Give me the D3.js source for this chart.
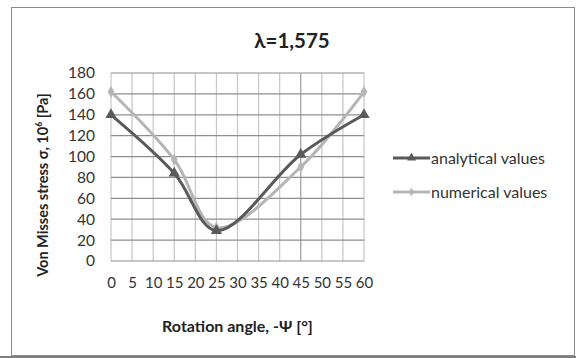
<!DOCTYPE html>
<html>
<head>
<meta charset="utf-8">
<script src="https://cdn.jsdelivr.net/npm/d3@7"></script>
<style>
  html, body { margin: 0; padding: 0; background: #fff; }
  svg { display: block; font-family: Lato, "Open Sans", sans-serif; }
</style>
</head>
<body>
<div id="chart"></div>
<script>
// data
const angles = [0, 15, 25, 45, 60]
const analytical = [140, 84, 29, 102, 140]
const numerical = [162, 97, 32, 90, 162]
const xTicks = [0, 5, 10, 15, 20, 25, 30, 35, 40, 45, 50, 55, 60]
const yTicks = [0, 20, 40, 60, 80, 100, 120, 140, 160, 180]
const seriesNames = ["analytical values", "numerical values"]

const width = 576, height = 358
const svg = d3.select("#chart").append("svg")
    .attr("width", width)
    .attr("height", height)

// outer frame
svg.append("rect")
    .attr("x", 11.5).attr("y", 7.5)
    .attr("width", 563).attr("height", 348)
    .attr("fill", "#fff")
    .attr("stroke", "#8c8c8c")
    .attr("stroke-width", 1)
svg.append("rect")
    .attr("x", 0).attr("y", 356)
    .attr("width", width).attr("height", 2)
    .attr("fill", "#7f7f7f")

const x = d3.scaleLinear().domain([0, 60]).range([111, 364])
const y = d3.scaleLinear().domain([0, 180]).range([261, 73])

// vertical grid
svg.append("g")
    .selectAll("line")
    .data(xTicks)
    .join("line")
    .attr("x1", d => x(d)).attr("x2", d => x(d))
    .attr("y1", y(0)).attr("y2", y(180))
    .attr("stroke", d => d == 45 ? "#9a9a9a" : "#c6c6c6")
    .attr("stroke-width", 1.2)

// horizontal grid
svg.append("g")
    .selectAll("line")
    .data(yTicks)
    .join("line")
    .attr("x1", x(0)).attr("x2", x(60))
    .attr("y1", d => y(d)).attr("y2", d => y(d))
    .attr("stroke", "#8e8e8e")
    .attr("stroke-width", 1.2)

// y axis labels
const yAxis = svg.append("g")
    .attr("transform", "translate(" + (x(0) - 16) + ",0)")
    .call(d3.axisLeft(y).tickValues(yTicks).tickSize(0).tickPadding(0))
yAxis.select(".domain").remove()
yAxis.selectAll("text")
    .attr("font-family", "Lato, sans-serif")
    .attr("font-size", 15.5)
    .attr("fill", "#333")

// x axis labels
const xAxis = svg.append("g")
    .attr("transform", "translate(0," + (y(0) + 16) + ")")
    .call(d3.axisBottom(x).tickValues(xTicks).tickSize(0).tickPadding(0).tickFormat(d3.format("d")))
xAxis.select(".domain").remove()
xAxis.selectAll("text")
    .attr("font-family", "Lato, sans-serif")
    .attr("font-size", 15)
    .attr("fill", "#333")

// titles
svg.append("text")
    .text("λ=1,575")
    .attr("x", 292).attr("y", 48)
    .attr("text-anchor", "middle")
    .attr("font-weight", "bold")
    .attr("font-size", 20.5)
    .attr("fill", "#222")

svg.append("text")
    .text("Rotation angle, -Ψ [°]")
    .attr("x", (x(0) + x(60)) / 2).attr("y", 332)
    .attr("text-anchor", "middle")
    .attr("font-weight", "bold")
    .attr("font-size", 16)
    .attr("fill", "#222")

const yTitle = svg.append("text")
    .attr("transform", "translate(48,185) rotate(-90)")
    .attr("text-anchor", "middle")
    .attr("font-weight", "bold")
    .attr("font-size", 14.5)
    .attr("fill", "#222")
yTitle.append("tspan").text("Von Misses stress σ, 10")
yTitle.append("tspan").text("6").attr("font-size", 8.5).attr("dy", -6)
yTitle.append("tspan").text(" [Pa]").attr("dy", 6)

// series
const colors = ["#5a5a5a", "#b5b5b5"]
const line = d3.line()
    .x(d => x(d[0]))
    .y(d => y(d[1]))
    .curve(d3.curveCatmullRom.alpha(0.5))

const series = [analytical, numerical]
const tri = d3.symbol().type(d3.symbolTriangle).size(55)
const dia = d3.symbol().type(d3.symbolDiamond).size(40)

// numerical drawn first so dark line sits on top
;[1, 0].forEach(i => {
    const pts = angles.map((a, j) => [a, series[i][j]])
    svg.append("path")
        .datum(pts)
        .attr("d", line)
        .attr("fill", "none")
        .attr("stroke", colors[i])
        .attr("stroke-width", 3)
    svg.append("g")
        .selectAll("path")
        .data(pts)
        .join("path")
        .attr("d", i == 0 ? tri : dia)
        .attr("transform", d => "translate(" + x(d[0]) + "," + y(d[1]) + ")")
        .attr("fill", colors[i])
})

// legend
const triS = d3.symbol().type(d3.symbolTriangle).size(35)
const diaS = d3.symbol().type(d3.symbolDiamond).size(22)
seriesNames.forEach((name, i) => {
    const ly = 158 + i * 34
    const g = svg.append("g")
    g.append("line")
        .attr("x1", 393).attr("x2", 430)
        .attr("y1", ly).attr("y2", ly)
        .attr("stroke", colors[i])
        .attr("stroke-width", 3)
    g.append("path")
        .attr("d", i == 0 ? triS : diaS)
        .attr("transform", "translate(411.5," + ly + ")")
        .attr("fill", colors[i])
    g.append("text")
        .text(name)
        .attr("x", 431).attr("y", ly + 5.5)
        .attr("font-size", 16)
        .attr("fill", "#333")
})
</script>
</body>
</html>
